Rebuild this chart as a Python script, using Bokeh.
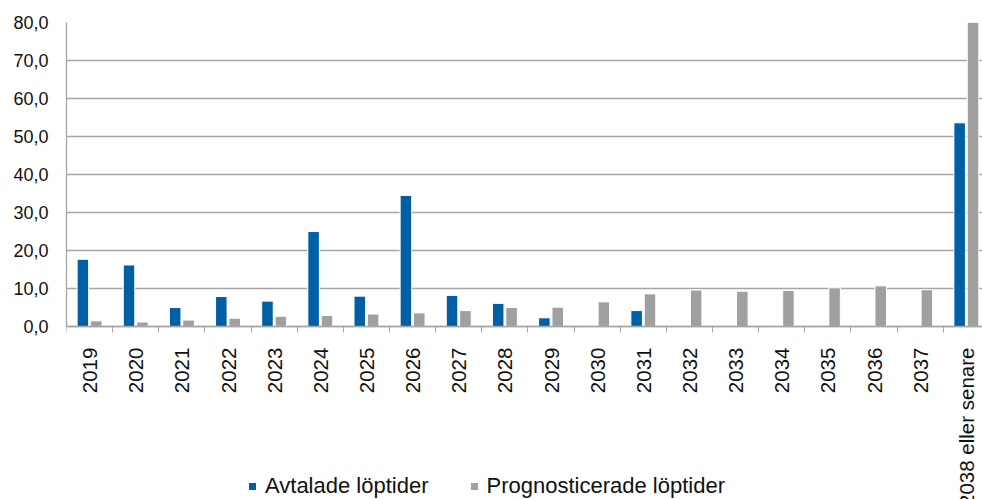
import math
from bokeh.plotting import figure
from bokeh.models import (Range1d, FixedTicker, Legend, LegendItem, ColumnDataSource)
from bokeh.embed import file_html
from bokeh.resources import INLINE

categories = ["2019", "2020", "2021", "2022", "2023", "2024", "2025", "2026", "2027",
              "2028", "2029", "2030", "2031", "2032", "2033", "2034", "2035", "2036",
              "2037", "2038 eller senare"]
avtalade = [17.7, 16.2, 5.0, 7.9, 6.7, 25.0, 8.0, 34.5, 8.2, 6.1, 2.3, 0.0, 4.2,
            0.0, 0.0, 0.0, 0.0, 0.0, 0.0, 53.6]
prognos = [1.5, 1.2, 1.7, 2.2, 2.7, 2.9, 3.3, 3.6, 4.2, 5.0, 5.1, 6.5, 8.6,
           9.6, 9.3, 9.5, 10.2, 10.7, 9.7, 80.0]
y_ticks = [0, 10, 20, 30, 40, 50, 60, 70, 80]
y_tick_labels = ["0,0", "10,0", "20,0", "30,0", "40,0", "50,0", "60,0", "70,0", "80,0"]
series_names = ["Avtalade löptider", "Prognosticerade löptider"]

BLUE = "#0060A6"
GRAY = "#A0A0A0"
GRID = "#A6A6A6"
FONT = "Liberation Sans"

idx = list(range(len(categories)))
src = ColumnDataSource(dict(
    xa=[i - 0.145 for i in idx], xp=[i + 0.145 for i in idx],
    avtalade=avtalade, prognos=prognos))

# plot area extends below zero so the axis labels and legend share the frame
p = figure(width=982, height=499, output_backend="svg", toolbar_location=None,
           x_range=Range1d(-0.5, 19.35), y_range=Range1d(-45.5, 80),
           min_border_left=66, min_border_right=0, min_border_top=22,
           min_border_bottom=0)
p.outline_line_color = None
p.background_fill_color = "white"
p.border_fill_color = "white"

ra = p.vbar(x="xa", top="avtalade", width=0.25, source=src, fill_color=BLUE,
            line_color="white", line_width=1)
rp = p.vbar(x="xp", top="prognos", width=0.25, source=src, fill_color=GRAY,
            line_color="white", line_width=1)

# x axis, drawn at y = 0
xa = p.xaxis[0]
xa.fixed_location = 0
xa.ticker = FixedTicker(ticks=idx, minor_ticks=[i - 0.5 for i in range(len(categories) + 1)])
xa.major_label_overrides = {i: c for i, c in zip(idx, categories)}
xa.major_label_orientation = math.pi / 2
xa.major_tick_out = 0
xa.major_tick_in = 0
xa.minor_tick_out = 6
xa.minor_tick_in = 0
xa.minor_tick_line_color = GRID
xa.axis_line_color = GRID
xa.axis_line_width = 1.3
xa.major_label_standoff = 15
xa.major_label_text_font = FONT
xa.major_label_text_font_size = "20.5px"
xa.major_label_text_color = "#111111"

# y axis
ya = p.yaxis[0]
ya.bounds = (0, 80)
ya.ticker = FixedTicker(ticks=y_ticks, minor_ticks=[])
ya.major_label_overrides = {t: s for t, s in zip(y_ticks, y_tick_labels)}
ya.major_tick_out = 0
ya.major_tick_in = 0
ya.axis_line_color = GRID
ya.axis_line_width = 1.3
ya.major_label_standoff = 18
ya.major_label_text_font = FONT
ya.major_label_text_font_size = "18px"
ya.major_label_text_color = "#111111"

p.xgrid.grid_line_color = None
p.ygrid.grid_line_color = GRID
p.ygrid.grid_line_width = 1.3
p.ygrid.ticker = FixedTicker(ticks=y_ticks)

legend = Legend(items=[LegendItem(label=series_names[0], renderers=[ra]),
                       LegendItem(label=series_names[1], renderers=[rp])],
                orientation="horizontal", location=(181, 0),
                glyph_width=10, glyph_height=10, label_standoff=8, spacing=40,
                padding=0, margin=0, border_line_color=None,
                background_fill_alpha=0, label_text_font=FONT,
                label_text_font_size="22px", label_text_color="#111111",
                label_height=10)
p.add_layout(legend, "center")

open("out.html", "w").write(file_html(p, INLINE))
